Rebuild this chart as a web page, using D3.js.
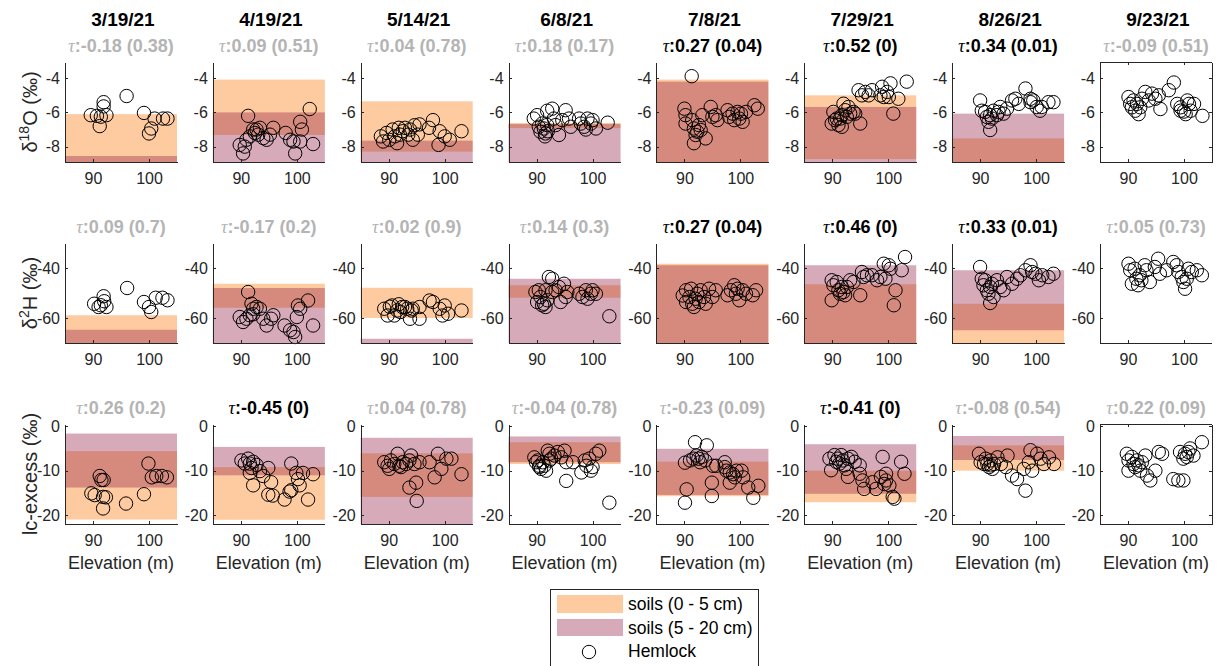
<!DOCTYPE html>
<html>
<head>
<meta charset="utf-8">
<title>Hemlock xylem isotopes vs elevation</title>
<script src="https://cdn.jsdelivr.net/npm/d3@7"></script>
<style>
  body { margin: 0; background: #fff; }
  svg { display: block; font-family: "Liberation Sans", Arial, sans-serif; }
</style>
</head>
<body>
<script>
// sampling dates (columns)
const dates = ["3/19/21", "4/19/21", "5/14/21", "6/8/21", "7/8/21", "7/29/21", "8/26/21", "9/23/21"];

// Kendall tau (p) per panel, and whether it is significant
const o18Tau = ["-0.18 (0.38)", "0.09 (0.51)", "0.04 (0.78)", "0.18 (0.17)", "0.27 (0.04)", "0.52 (0)", "0.34 (0.01)", "-0.09 (0.51)"];
const o18Sig = [0, 0, 0, 0, 1, 1, 1, 0];
const h2Tau = ["0.09 (0.7)", "-0.17 (0.2)", "0.02 (0.9)", "0.14 (0.3)", "0.27 (0.04)", "0.46 (0)", "0.33 (0.01)", "0.05 (0.73)"];
const h2Sig = [0, 0, 0, 0, 1, 1, 1, 0];
const lcTau = ["0.26 (0.2)", "-0.45 (0)", "0.04 (0.78)", "-0.04 (0.78)", "-0.23 (0.09)", "-0.41 (0)", "-0.08 (0.54)", "0.22 (0.09)"];
const lcSig = [0, 1, 0, 0, 0, 1, 0, 0];

// soil ranges [min, max]; shallow = 0-5 cm, deep = 5-20 cm
const o18Shallow = [[-9.5, -6.1], [-7.32, -4.08], [-8.29, -5.35], [-6.92, -6.62], [-9.5, -4.08], [-8.73, -5.0], [-9.5, -7.52], null];
const o18Deep = [[-9.5, -8.55], [-9.5, -6.0], [-9.5, -7.65], [-9.5, -6.68], [-9.5, -4.2], [-9.5, -5.68], [-9.5, -6.07], null];
const h2Shallow = [[-75, -58.9], [-55.9, -46.3], [-60, -47.9], [-51.9, -46.9], [-75, -38.3], [-75, -46.5], [-75, -54.3], null];
const h2Deep = [[-75, -64.7], [-75, -48], [-75, -68.3], [-75, -44.3], [-75, -38.9], [-75, -38.9], [-64.9, -40.9], null];
const lcShallow = [[-21, -5.6], [-21.05, -9.2], [-15.9, -6.1], [-8.5, -3.6], [-15.75, -7.95], [-17.1, -10], [-10, -4.3], null];
const lcDeep = [[-13.8, -1.65], [-11.05, -4.65], [-25, -2.6], [-8.1, -2.3], [-15.45, -5.08], [-15.2, -4.05], [-7.6, -2.2], null];

// hemlock samples [elevation (m), value]
const o18Pts = [
  [[89.6,-6.16],[90.7,-6.2],[91.2,-6.8],[91.9,-5.4],[91.9,-5.65],[92.4,-6.16],[91.4,-6.25],[96,-5.04],[99.1,-6.03],[100,-7.23],[100.4,-6.94],[101,-6.36],[102.5,-6.36],[103.3,-6.36]],
  [[91.3,-6.2],[89.8,-7.9],[90.4,-8.4],[90.7,-8.0],[91.6,-7.4],[92.2,-7.0],[92.5,-7.2],[92.8,-7.0],[93.1,-7.3],[93.4,-6.9],[94,-7.5],[94.6,-7.6],[95.2,-7.3],[95.8,-6.9],[98,-7.2],[98.8,-7.6],[99.4,-7.7],[99.7,-8.4],[100.6,-7.7],[100.6,-6.55],[100.9,-7.0],[102.3,-5.8],[102.9,-7.85],[91.0,-7.6]],
  [[88.6,-7.4],[89.0,-7.7],[89.6,-7.2],[90.1,-7.6],[90.7,-7.0],[91.1,-7.4],[91.5,-7.8],[92,-7.3],[92.5,-7.1],[92.9,-6.9],[93.5,-7.3],[93.8,-7.0],[94.3,-7.6],[94.6,-6.75],[95.2,-7.3],[95.5,-6.7],[97.2,-6.9],[97.9,-6.45],[98.9,-7.9],[99.1,-7.1],[100,-7.4],[100.9,-7.6],[103,-7.1],[91.8,-6.9]],
  [[89.5,-6.36],[90.1,-6.16],[90.4,-6.84],[90.7,-7.13],[91,-6.65],[91.3,-6.94],[91.6,-7.23],[91.9,-6.74],[91.9,-5.9],[92.8,-5.78],[93.1,-6.36],[93.4,-6.74],[94,-7.32],[94.6,-6.45],[95.2,-5.87],[95.8,-6.36],[96.1,-6.84],[97.6,-6.36],[97.9,-6.65],[98.5,-6.84],[98.8,-7.0],[99.1,-6.36],[99.7,-6.65],[100,-6.45],[100.6,-6.94],[102.7,-6.6],[91.5,-7.4],[92,-7.1]],
  [[91.3,-3.88],[90,-5.78],[90.2,-6.16],[90.2,-6.65],[91.4,-6.45],[91.7,-6.94],[92,-7.32],[91.7,-7.8],[92.3,-7.13],[92.6,-6.74],[92.9,-7.03],[93.2,-6.16],[93.8,-7.52],[94.7,-5.68],[95,-6.26],[95.6,-6.16],[95.9,-6.45],[97.7,-5.87],[98,-6.26],[98.6,-6.07],[98.9,-6.45],[99.5,-5.97],[99.8,-6.36],[100.1,-6.07],[100.4,-6.55],[101,-5.97],[102.5,-5.58],[103.1,-5.78]],
  [[90.2,-5.97],[90.8,-6.36],[89.9,-6.65],[91.1,-6.74],[91.7,-6.84],[91.7,-6.16],[92,-5.49],[92.3,-5.87],[92.6,-6.26],[92.9,-5.68],[93.2,-6.07],[93.8,-5.97],[94.1,-6.07],[95,-6.65],[94.7,-4.7],[95.3,-5.0],[95.9,-4.8],[96.5,-5.0],[97.1,-4.7],[98.6,-5.0],[98.9,-4.5],[99.2,-5.1],[99.8,-4.8],[100.4,-4.3],[100.1,-5.1],[100.9,-6.07],[101.8,-5.2],[103.3,-4.2],[91.4,-6.36],[90.5,-6.45]],
  [[90,-5.3],[90.3,-5.9],[90.9,-5.97],[91.2,-6.26],[91.5,-6.55],[91.8,-6.16],[91.8,-7.03],[92.1,-6.36],[92.4,-5.9],[93,-6.16],[93.6,-5.68],[94.2,-6.07],[94.8,-5.78],[95.7,-5.3],[96.3,-5.2],[96.9,-5.5],[98.1,-4.6],[99,-5.2],[99,-5.4],[99.5,-5.3],[100.1,-5.68],[100.7,-5.9],[101,-5.68],[102.2,-5.4],[103.1,-5.4],[93.3,-5.97]],
  [[90.1,-5.1],[90.4,-5.5],[90.7,-5.7],[91,-5.3],[91.3,-5.9],[91.6,-5.5],[91.9,-6.1],[92.2,-5.7],[92.5,-5.2],[93.1,-4.8],[93.7,-5.3],[94.3,-4.9],[94.9,-5.2],[95.5,-5.0],[95.8,-5.8],[97.3,-4.7],[98.2,-4.25],[98.8,-5.5],[99.4,-5.7],[100,-5.95],[100.3,-6.1],[100.6,-5.3],[100.9,-5.5],[101.2,-5.9],[101.8,-5.5],[103.3,-6.2],[99.4,-5.9]]
];
const h2Pts = [
  [[90.2,-54.3],[91,-55.6],[91.9,-51.3],[92,-53.3],[92.4,-55.6],[91.4,-54.9],[96.1,-48],[99.1,-53.6],[100,-55.6],[100.4,-57.6],[101.2,-51.9],[102.4,-51.9],[103.3,-52.9]],
  [[91.3,-49.6],[91.9,-54.3],[92.2,-56.3],[92.8,-55.6],[93.4,-56.3],[89.8,-59.6],[90.4,-61.6],[91,-60.3],[91.6,-58.9],[92.2,-58.5],[94,-60.3],[94.6,-63],[95.4,-60.3],[95.8,-58.9],[97.8,-63],[98.8,-64.9],[99.4,-65.6],[99.7,-67.6],[100,-59.6],[100.2,-55],[100.6,-56.3],[102,-53],[102.9,-63]],
  [[89.2,-56.3],[90.6,-55],[91.5,-57],[92.4,-55.6],[93.3,-56.3],[94.1,-57],[89.8,-59],[91,-59],[92.1,-57.6],[93.8,-60.3],[92.9,-55.6],[94.3,-56.3],[95.5,-55.6],[95.5,-60.3],[97.9,-53.6],[97.3,-53],[100,-55],[99.6,-59],[100.6,-58.3],[103,-57],[99.1,-56.3],[90.2,-55.5],[91.8,-54.5]],
  [[89.8,-49.6],[90.4,-48.9],[90.7,-51.6],[90.1,-53.6],[91,-54.9],[91.3,-54.3],[91.6,-55.6],[91.9,-52.9],[91.6,-48.9],[92.2,-43.6],[92.8,-44.3],[92.8,-49.6],[93.4,-48.9],[94,-47.6],[94.3,-53.6],[94.9,-46.3],[95.5,-49.6],[95.2,-51.6],[97.6,-50.3],[98.2,-51.6],[98.8,-48.9],[99.1,-52.3],[99.7,-50.3],[100,-48.9],[100.6,-50.3],[103,-59.3]],
  [[89.7,-51],[90.3,-48.9],[90.3,-53.6],[90.9,-51.6],[91.2,-48.3],[91.4,-54.3],[91.7,-55.6],[92,-52.3],[92.3,-50.3],[92.6,-53.6],[92.9,-48.9],[93.5,-51.6],[93.8,-54.3],[94.4,-48.3],[95,-51.6],[95.6,-48.9],[97.7,-50.9],[98.3,-48.9],[98.9,-46.9],[99.2,-50.3],[99.5,-48.3],[99.8,-52.9],[100.4,-48.9],[101,-50.3],[102.8,-48.9],[102.2,-50.9]],
  [[89.9,-44.9],[90.2,-46.9],[89.9,-52.9],[90.8,-45.6],[91.1,-48.9],[91.4,-50.3],[91.7,-47.6],[92,-49.6],[92.3,-50.9],[92.6,-47.6],[93.2,-44.9],[93.8,-45.6],[95,-50.9],[95.3,-41.6],[95.6,-43.6],[96.2,-42.9],[97.1,-42.9],[98,-44.9],[98.6,-43.6],[99.2,-38.3],[99.5,-44.3],[100.1,-38.9],[100.4,-40.3],[101.3,-48.9],[101,-54.9],[102.4,-40.9],[103,-35.6]],
  [[90,-39.6],[90.3,-44.3],[90.6,-46.9],[90.9,-44.9],[91.2,-48.9],[91.5,-50.3],[91.8,-54],[91.8,-47.6],[92.1,-46.3],[92.4,-51.6],[93,-44.9],[93.6,-47.6],[94.2,-48.9],[94.8,-43.6],[95.7,-46.3],[96.6,-44.3],[97.2,-42.9],[98.1,-40.9],[99,-38.9],[99.3,-41.6],[99.9,-42.3],[100.5,-44.9],[101.1,-42.9],[102.2,-43.6],[103.1,-42.3]],
  [[90.1,-38.3],[90.4,-40.9],[90.7,-46.3],[91.2,-40.3],[91.5,-44.3],[91.8,-46.9],[92.1,-42.9],[92.4,-44.9],[93,-38.9],[93.3,-40.9],[93.9,-45.6],[94.8,-39.6],[95.4,-36.3],[95.7,-42.3],[96.9,-40.9],[98.1,-37.6],[98.7,-38.9],[99,-41.6],[99.6,-43.6],[99.9,-45.6],[100.2,-48.3],[100.8,-40.3],[101.4,-41.6],[102.3,-40.9],[103.2,-42.9],[100.5,-44.3]]
];
const lcPts = [
  [[89.7,-15.1],[90.3,-15.5],[91.2,-11.2],[91.5,-12.1],[91.9,-12.1],[91.8,-15.9],[92.3,-16],[91.8,-18.5],[95.9,-17.4],[99.1,-15.3],[99.9,-8.4],[100.5,-11.5],[101.3,-11.2],[102.3,-11.2],[103.2,-11.5]],
  [[90.1,-7.7],[90.7,-8.4],[91.3,-7.3],[91.6,-8.4],[91.9,-9.4],[92.2,-8],[92.8,-8.7],[91.6,-10.5],[92.2,-13.3],[93.4,-10.1],[94,-11.2],[94.9,-9.4],[94.9,-15.4],[95.4,-12.6],[95.7,-15.6],[97.8,-16.5],[98.7,-14.7],[99,-14.4],[99,-8.4],[99.9,-10.5],[100.2,-11.9],[100.5,-13.3],[101.1,-10.5],[102,-16.5],[102.9,-10.8]],
  [[89.2,-8.1],[89.8,-8.9],[90.4,-7.7],[91,-8.5],[91.6,-6.2],[91.9,-8.9],[92.5,-8.1],[93.1,-8.5],[93.7,-7.7],[94,-6.6],[94.6,-8.5],[95.5,-8.1],[97.3,-8.1],[98.8,-6.2],[99.4,-9.6],[100.3,-7.3],[101.2,-7.3],[103,-10.8],[98.2,-11.5],[93.7,-13.8],[94.9,-12.7],[95,-16.8],[90.1,-9.6],[92.2,-9.2]],
  [[89.6,-7],[89.9,-8.1],[90.2,-7.7],[90.5,-8.9],[90.8,-9.6],[91.1,-8.1],[91.4,-8.9],[91.7,-10],[92,-5.5],[92.3,-6.2],[92.6,-7.3],[93.2,-6.6],[93.8,-5.8],[94.4,-7],[95,-5.5],[95.3,-8.1],[95.3,-12.3],[96.5,-8.1],[98,-10.4],[98.6,-7.7],[98.9,-8.9],[99.4,-7.3],[99.7,-10],[100,-9.2],[100.6,-6.2],[101.2,-5.5],[103,-17.2],[90.5,-9.2],[92.3,-7.7]],
  [[91.9,-3.6],[94,-4.3],[90.1,-8.2],[91,-7.7],[91.6,-7.3],[92.2,-6.6],[92.5,-7.3],[92.8,-8.1],[93.1,-6.9],[93.7,-7.7],[95.1,-8.9],[95.7,-8.9],[97.2,-8.1],[97.2,-9.2],[97.5,-10],[98.1,-10.4],[98.7,-10.8],[99,-11.5],[99.3,-10],[100.2,-10],[100.5,-11.5],[101.4,-13.8],[102.3,-16.1],[103.2,-13.4],[90.4,-14.2],[90.1,-17.2],[94.9,-12.7],[94.9,-15.7],[98.1,-12.7]],
  [[89.5,-7.3],[89.8,-9.9],[90.4,-6.5],[90.7,-8],[91,-7.3],[91.3,-8.4],[91.6,-6.5],[91.9,-7.7],[92.2,-8.8],[92.5,-9.6],[92.8,-7.3],[92.8,-11.4],[93.4,-6.9],[94,-8],[94.9,-8.8],[94.9,-10.7],[95.4,-12.2],[95.7,-14.1],[97.2,-12.6],[97.8,-14.1],[98.7,-11.4],[99,-6.9],[99.3,-13],[99.6,-10.7],[100.2,-13.3],[100.8,-15.9],[101.1,-16.3],[102.3,-8],[102.9,-10.7],[99.6,-12.2]],
  [[89.8,-6.2],[90.1,-8.1],[90.7,-8.5],[91,-7.3],[91.3,-8.5],[91.6,-9.2],[91.9,-7.7],[92.2,-9.6],[92.5,-8.5],[93.1,-7],[93.7,-8.5],[94.6,-9.2],[94.9,-6.6],[95.7,-11.1],[96.6,-11.9],[97.8,-9.6],[98.1,-14.5],[98.7,-8.1],[99,-5.4],[99.3,-10],[100.2,-6.2],[100.8,-7.3],[101.4,-8.5],[102.3,-7],[103.2,-8.5],[91.9,-8.8]],
  [[89.8,-6.2],[90.1,-7.7],[90.1,-10],[90.7,-6.9],[91,-8.5],[91.3,-9.2],[91.6,-7.7],[91.9,-8.8],[92.2,-10],[92.5,-8.1],[93.1,-6.6],[93.4,-11.1],[94,-12.2],[94.9,-10],[95.5,-5.8],[96.1,-6.2],[98.1,-11.9],[99,-12.2],[99.3,-5.8],[99.9,-7.3],[100.2,-6.2],[100.5,-6.9],[100.8,-5.8],[101.1,-5],[101.7,-6.6],[103.2,-3.6],[99.9,-12.2]]
];

const xTicks = [90, 100];
const elevDomain = [85, 105];

// layout
const W = 1222, H = 666;
const left0 = 65, step = 147.85, pw = 112, ph = 100;
const rowTop = [62, 243, 424];
const ink = "#262626";
const grey = "#b4b4b4";
const shallowCol = "#fecba1";
const deepCol = "rgb(147,31,68)";
const deepAlpha = 0.38;

const rows = [
  { domain: [-8.9, -3.05], ticks: [-8, -6, -4], shallow: o18Shallow, deep: o18Deep, pts: o18Pts, tau: o18Tau, sig: o18Sig, label: ["δ", "18", "O (‰)"], box: [7] },
  { domain: [-70, -30], ticks: [-60, -40], shallow: h2Shallow, deep: h2Deep, pts: h2Pts, tau: h2Tau, sig: h2Sig, label: ["δ", "2", "H (‰)"], box: [] },
  { domain: [-22, 0.5], ticks: [-20, -10, 0], shallow: lcShallow, deep: lcDeep, pts: lcPts, tau: lcTau, sig: lcSig, label: ["lc-excess (‰)"], box: [7] }
];

const svg = d3.select("body").append("svg").attr("width", W).attr("height", H);

const x = d3.scaleLinear().domain(elevDomain).range([0, pw]);

// column titles
svg.selectAll("text.title").data(dates).enter().append("text")
  .attr("class", "title")
  .attr("x", (d, i) => left0 + i * step + pw / 2 + 2)
  .attr("y", 26)
  .attr("text-anchor", "middle")
  .attr("font-size", 19).attr("font-weight", "bold").attr("fill", "#000")
  .text(d => d);

rows.forEach(function (row, r) {
  const y = d3.scaleLinear().domain(row.domain).range([ph, 0]).clamp(true);

  // y label
  const lab = svg.append("text")
    .attr("transform", `translate(37,${rowTop[r] + ph / 2}) rotate(-90)`)
    .attr("text-anchor", "middle").attr("font-size", 20).attr("fill", ink);
  if (row.label.length === 3) {
    lab.append("tspan").text(row.label[0]);
    lab.append("tspan").attr("dy", -8).attr("font-size", 14).text(row.label[1]);
    lab.append("tspan").attr("dy", 8).text(row.label[2]);
  } else {
    lab.text(row.label[0]);
  }

  dates.forEach(function (dt, c) {
    const g = svg.append("g").attr("transform", `translate(${left0 + c * step},${rowTop[r]})`);

    // soil bands
    const bands = [[row.shallow[c], shallowCol, 1], [row.deep[c], deepCol, deepAlpha]];
    bands.forEach(function (b) {
      if (!b[0]) return;
      g.append("rect")
        .attr("x", x(elevDomain[0]))
        .attr("width", x(elevDomain[1]) - x(elevDomain[0]))
        .attr("y", y(b[0][1]))
        .attr("height", y(b[0][0]) - y(b[0][1]))
        .attr("fill", b[1]).attr("fill-opacity", b[2]);
    });

    // hemlock points
    g.selectAll("circle").data(row.pts[c]).enter().append("circle")
      .attr("cx", d => x(d[0]))
      .attr("cy", d => y(d[1]))
      .attr("r", 6.7)
      .attr("fill", "none").attr("stroke", "#000").attr("stroke-width", 1);

    // axes
    const ax = g.append("g").attr("transform", `translate(0,${ph})`)
      .call(d3.axisBottom(x).tickValues(xTicks).tickSizeInner(-3).tickSizeOuter(0).tickPadding(8).tickFormat(d => String(d)));
    const ay = g.append("g")
      .call(d3.axisLeft(y).tickValues(row.ticks).tickSizeInner(-3).tickSizeOuter(0).tickPadding(5).tickFormat(d => String(d)));
    const axes = [ax, ay];
    if (row.box.indexOf(c) >= 0) {
      axes.push(g.append("g").call(d3.axisTop(x).tickValues(xTicks).tickSizeInner(-3).tickSizeOuter(0).tickFormat("")));
      axes.push(g.append("g").attr("transform", `translate(${pw},0)`)
        .call(d3.axisRight(y).tickValues(row.ticks).tickSizeInner(-3).tickSizeOuter(0).tickFormat("")));
    }
    axes.forEach(function (a) {
      a.attr("font-family", null).attr("font-size", null);
      a.select(".domain").attr("stroke", ink).attr("shape-rendering", "crispEdges");
      a.selectAll(".tick line").attr("stroke", ink).attr("shape-rendering", "crispEdges");
      a.selectAll(".tick text").attr("fill", ink).attr("font-size", 16);
    });
    ax.selectAll(".tick text").attr("dy", "0.9em");

    // tau label
    const t = svg.append("text")
      .attr("x", left0 + c * step + pw / 2)
      .attr("y", rowTop[r] - 10)
      .attr("text-anchor", "middle")
      .attr("font-size", 18)
      .attr("fill", row.sig[c] ? "#000" : grey);
    t.append("tspan").attr("font-family", "'Liberation Serif', 'DejaVu Serif', serif").attr("font-style", "italic").text("τ");
    t.append("tspan").attr("font-weight", "bold").text(":" + row.tau[c]);

    // x label on bottom row
    if (r === 2) {
      svg.append("text")
        .attr("x", left0 + c * step + pw / 2)
        .attr("y", 569)
        .attr("text-anchor", "middle").attr("font-size", 18).attr("fill", ink)
        .text("Elevation (m)");
    }
  });
});

// legend
const legendItems = ["soils (0 - 5 cm)", "soils (5 - 20 cm)", "Hemlock"];
const lg = svg.append("g").attr("transform", "translate(550,589)");
lg.append("rect").attr("x", 0.5).attr("y", 0.5).attr("width", 208).attr("height", 100)
  .attr("fill", "#fff").attr("stroke", ink).attr("shape-rendering", "crispEdges");
lg.append("rect").attr("x", 7).attr("y", 6).attr("width", 66).attr("height", 18).attr("fill", shallowCol);
lg.append("rect").attr("x", 7).attr("y", 30).attr("width", 66).attr("height", 17).attr("fill", deepCol).attr("fill-opacity", deepAlpha);
lg.append("circle").attr("cx", 39).attr("cy", 63).attr("r", 6.7).attr("fill", "none").attr("stroke", "#000");
lg.selectAll("text.li").data(legendItems).enter().append("text")
  .attr("class", "li")
  .attr("x", 78)
  .attr("y", (d, i) => 21 + i * 23.5)
  .attr("font-size", 17.5).attr("fill", "#000")
  .text(d => d);
</script>
</body>
</html>
